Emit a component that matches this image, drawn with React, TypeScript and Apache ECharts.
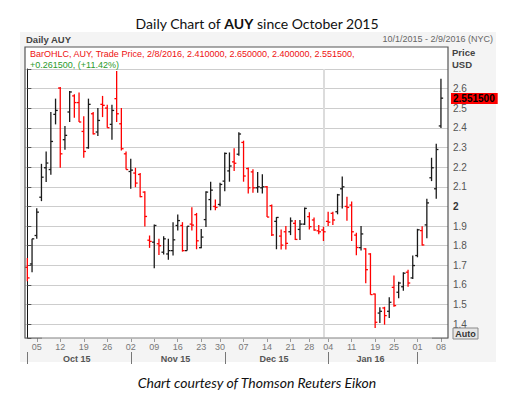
import React, { useEffect, useRef } from "react";
import * as echarts from "echarts";

// Trading days (day of month) per month, Oct 1 2015 - Feb 9 2016
const octDays = [1, 2, 5, 6, 7, 8, 9, 12, 13, 14, 15, 16, 19, 20, 21, 22, 23, 26, 27, 28, 29, 30];
const novDays = [2, 3, 4, 5, 6, 9, 10, 11, 12, 13, 16, 17, 18, 19, 20, 23, 24, 25, 27, 30];
const decDays = [1, 2, 3, 4, 7, 8, 9, 10, 11, 14, 15, 16, 17, 18, 21, 22, 23, 24, 28, 29, 30, 31];
const janDays = [4, 5, 6, 7, 8, 11, 12, 13, 14, 15, 19, 20, 21, 22, 25, 26, 27, 28, 29];
const febDays = [1, 2, 3, 4, 5, 8, 9];

const weekStarts = [
  "2015-10-05", "2015-10-12", "2015-10-19", "2015-10-26", "2015-11-02", "2015-11-09",
  "2015-11-16", "2015-11-23", "2015-11-30", "2015-12-07", "2015-12-14", "2015-12-21",
  "2015-12-28", "2016-01-04", "2016-01-11", "2016-01-19", "2016-01-25", "2016-02-01", "2016-02-08",
];
const monthStarts = ["2015-10-01", "2015-11-02", "2015-12-01", "2016-01-04", "2016-02-01"];
const monthLabels = ["Oct 15", "Nov 15", "Dec 15", "Jan 16"];
const yearBoundary = "2015-12-31";

const opens = [
  1.69, 1.707, 1.852, 2.047, 2.197, 2.188, 2.469, 2.603, 2.34, 2.481,
  2.563, 2.529, 2.382, 2.299, 2.472, 2.379, 2.52, 2.501, 2.418, 2.549,
  2.421, 2.268, 2.178, 2.17, 2.163, 2.073, 1.828, 1.818, 1.81, 1.767,
  1.758, 1.775, 1.903, 1.903, 1.775, 1.91, 1.958, 1.79, 1.933, 2.035,
  2.0, 2.01, 2.129, 2.181, 2.227, 2.266, 2.326, 2.193, 2.176, 2.095,
  2.095, 2.1, 2.004, 1.924, 1.849, 1.871, 1.871, 1.914, 1.883, 1.91,
  1.948, 1.931, 1.876, 1.88, 1.924, 1.965, 1.973, 2.09, 2.0, 2.007,
  1.854, 1.79, 1.784, 1.758, 1.554, 1.457, 1.483, 1.466, 1.588, 1.563,
  1.591, 1.665, 1.636, 1.75, 1.877, 1.906, 2.146, 2.09, 2.41,
];
const highs = [
  1.738, 1.835, 1.991, 2.217, 2.28, 2.481, 2.549, 2.608, 2.41, 2.588,
  2.571, 2.58, 2.459, 2.549, 2.481, 2.501, 2.563, 2.518, 2.518, 2.69,
  2.501, 2.28, 2.243, 2.197, 2.17, 2.078, 1.852, 1.908, 1.835, 1.848,
  1.835, 1.92, 1.959, 1.92, 1.899, 1.996, 1.967, 1.885, 2.078, 2.126,
  2.035, 2.121, 2.275, 2.275, 2.296, 2.378, 2.335, 2.198, 2.189, 2.176,
  2.164, 2.104, 2.01, 1.946, 1.883, 1.9, 1.944, 1.931, 1.931, 1.994,
  1.97, 1.944, 1.905, 1.897, 1.973, 1.973, 2.064, 2.152, 2.05, 2.025,
  1.866, 1.9, 1.787, 1.762, 1.557, 1.486, 1.489, 1.537, 1.648, 1.617,
  1.665, 1.678, 1.75, 1.886, 1.899, 2.039, 2.248, 2.319, 2.65,
];
const lows = [
  1.619, 1.665, 1.835, 2.027, 2.124, 2.161, 2.418, 2.197, 2.289, 2.43,
  2.452, 2.43, 2.248, 2.294, 2.367, 2.359, 2.455, 2.401, 2.34, 2.43,
  2.285, 2.188, 2.09, 2.098, 2.047, 1.898, 1.789, 1.685, 1.753, 1.755,
  1.728, 1.75, 1.877, 1.77, 1.775, 1.877, 1.782, 1.787, 1.895, 1.98,
  1.98, 2.001, 2.078, 2.126, 2.181, 2.258, 2.126, 2.066, 2.07, 2.07,
  2.066, 1.946, 1.85, 1.782, 1.781, 1.781, 1.854, 1.829, 1.829, 1.905,
  1.883, 1.876, 1.859, 1.824, 1.9, 1.905, 1.96, 1.99, 1.927, 1.824,
  1.752, 1.775, 1.609, 1.551, 1.381, 1.406, 1.398, 1.432, 1.489, 1.532,
  1.571, 1.591, 1.631, 1.741, 1.801, 1.838, 2.129, 2.039, 2.4,
];
const closes = [
  1.636, 1.835, 1.971, 2.149, 2.221, 2.331, 2.489, 2.268, 2.362, 2.583,
  2.529, 2.43, 2.28, 2.52, 2.37, 2.438, 2.515, 2.401, 2.489, 2.472,
  2.294, 2.188, 2.185, 2.119, 2.05, 1.949, 1.822, 1.903, 1.8, 1.835,
  1.775, 1.83, 1.928, 1.775, 1.899, 1.905, 1.825, 1.844, 2.073, 2.083,
  1.995, 2.112, 2.27, 2.206, 2.22, 2.369, 2.155, 2.095, 2.095, 2.1,
  2.1, 1.946, 1.855, 1.944, 1.803, 1.812, 1.926, 1.832, 1.91, 1.99,
  1.897, 1.88, 1.871, 1.871, 1.92, 1.931, 2.059, 2.1, 1.995, 1.871,
  1.791, 1.86, 1.678, 1.551, 1.41, 1.466, 1.444, 1.512, 1.495, 1.61,
  1.66, 1.61, 1.699, 1.881, 1.804, 2.018, 2.197, 2.29, 2.5515,
];

const yTicks = { min: 1.33, max: 2.7 };

const pad = (d: number) => (d < 10 ? "0" + d : "" + d);
const dates: string[] = [
  ...octDays.map((d) => `2015-10-${pad(d)}`),
  ...novDays.map((d) => `2015-11-${pad(d)}`),
  ...decDays.map((d) => `2015-12-${pad(d)}`),
  ...janDays.map((d) => `2016-01-${pad(d)}`),
  ...febDays.map((d) => `2016-02-${pad(d)}`),
];

const FONT = "Liberation Sans";

export default function App() {
  const ref = useRef<HTMLDivElement>(null);
  useEffect(() => {
    if (!ref.current) return;
    const chart = echarts.init(ref.current, null, { renderer: "svg" });
    const ohlc = opens.map((o, i) => [i, o, highs[i], lows[i], closes[i]]);
    const sepIdx = monthStarts.map((d) => dates.indexOf(d));
    const mids = monthLabels.map((_, k) => (sepIdx[k] + sepIdx[k + 1] - 1) / 2);
    const last = closes[closes.length - 1];
    const first = closes[closes.length - 2];
    const chg = last - first;
    const pct = (chg / first) * 100;

    chart.setOption({
      animation: false,
      grid: { left: 25, right: 71, top: 69, bottom: 61 },
      xAxis: [
        {
          type: "category",
          data: dates,
          boundaryGap: true,
          axisLine: { show: false },
          axisTick: {
            show: true,
            alignWithLabel: true,
            length: 4,
            interval: (i: number, v: string) => weekStarts.includes(v),
            lineStyle: { color: "#999" },
          },
          axisLabel: {
            interval: (i: number, v: string) => weekStarts.includes(v),
            formatter: (v: string) => v.slice(8),
            color: "#777",
            fontFamily: FONT,
            fontSize: 9,
            margin: 4,
          },
          splitLine: { show: false },
        },
        {
          type: "value",
          position: "bottom",
          offset: 14,
          min: -0.5,
          max: dates.length - 0.5,
          axisLine: { show: false },
          splitLine: { show: false },
          axisTick: {
            show: true,
            customValues: sepIdx,
            length: 12,
            lineStyle: { color: "#777" },
          },
          axisLabel: {
            customValues: mids,
            formatter: (v: number) => {
              let k = 0;
              mids.forEach((m, j) => { if (Math.abs(m - v) < Math.abs(mids[k] - v)) k = j; });
              return monthLabels[k];
            },
            color: "#555",
            fontWeight: "bold",
            fontFamily: FONT,
            fontSize: 9,
            margin: 2,
          },
        },
      ],
      yAxis: {
        type: "value",
        position: "right",
        min: yTicks.min,
        max: yTicks.max,
        splitNumber: 14,
        axisLine: { show: true, lineStyle: { color: "#111", width: 1 } },
        axisTick: { show: true, length: 4, lineStyle: { color: "#555" } },
        axisLabel: {
          margin: 5,
          color: "#555",
          fontFamily: FONT,
          fontSize: 10,
          formatter: (v: number) => {
            if (v > 2.65 || v < 1.35) return "";
            if (Math.abs(v - 2) < 1e-6) return "{b|2}";
            return v.toFixed(1);
          },
          rich: { b: { fontWeight: "bold", color: "#333", fontFamily: FONT, fontSize: 10 } },
        },
        splitLine: { show: true, lineStyle: { color: "#cdcdcd", width: 1.2 } },
      },
      series: [
        {
          type: "custom",
          data: ohlc,
          encode: { x: 0, y: [1, 2, 3, 4] },
          z: 5,
          renderItem: (params: any, api: any) => {
            const i = api.value(0);
            const o = api.coord([i, api.value(1)]);
            const h = api.coord([i, api.value(2)]);
            const l = api.coord([i, api.value(3)]);
            const c = api.coord([i, api.value(4)]);
            const color = api.value(4) < api.value(1) ? "#ff0000" : "#1a1a1a";
            const st = { stroke: color, lineWidth: 1.3 };
            return {
              type: "group",
              children: [
                { type: "line", shape: { x1: h[0], y1: h[1], x2: l[0], y2: l[1] }, style: st },
                { type: "line", shape: { x1: o[0] - 2.2, y1: o[1], x2: o[0], y2: o[1] }, style: st },
                { type: "line", shape: { x1: c[0], y1: c[1], x2: c[0] + 2.2, y2: c[1] }, style: st },
              ],
            };
          },
        },
        {
          type: "line",
          data: [],
          silent: true,
          z: 20,
          markLine: {
            silent: true,
            symbol: "none",
            animation: false,
            data: [
              {
                xAxis: yearBoundary,
                lineStyle: { color: "#dcdcdc", width: 2, type: "solid" },
                label: { show: false },
              },
              {
                yAxis: last,
                lineStyle: { color: "rgba(255,255,255,0)", width: 0.01, type: "solid" },
                label: {
                  show: true,
                  position: "end",
                  distance: [3, 0],
                  formatter: () => last.toFixed(6),
                  backgroundColor: "#ff0000",
                  color: "#000",
                  opacity: 1,
                  fontWeight: "bold",
                  fontFamily: FONT,
                  fontSize: 10,
                  padding: [1, 3, 0, 2],
                },
              },
            ],
          },
        },
      ],
      graphic: [
        { type: "rect", z: -20, shape: { x: 20, y: 32, width: 476, height: 330 }, style: { fill: "#f4f4f4" } },
        { type: "rect", z: -19, shape: { x: 25, y: 47, width: 423, height: 291 }, style: { fill: "#ffffff" } },
        { type: "rect", z: 50, shape: { x: 25, y: 47, width: 423, height: 291 }, style: { fill: "none", stroke: "#555", lineWidth: 1.2 } },
        { type: "line", z: 51, shape: { x1: 42, y1: 338, x2: 432, y2: 338 }, style: { stroke: "#c8c8c8", lineWidth: 1.5 } },
        {
          type: "text", z: 60, x: 257, y: 23,
          style: {
            text: "Daily Chart of {b|AUY} since October 2015",
            font: `14px Lato`, fill: "#111", align: "center", verticalAlign: "middle",
            rich: { b: { fontWeight: "bold", fontSize: 14, fontFamily: "Lato", fill: "#111" } },
          },
        },
        {
          type: "text", z: 60, x: 26, y: 39,
          style: { text: "Daily AUY", font: `bold 9.5px ${FONT}`, fill: "#444", verticalAlign: "middle" },
        },
        {
          type: "text", z: 60, x: 493, y: 39,
          style: { text: "10/1/2015 - 2/9/2016 (NYC)", font: `9px ${FONT}`, fill: "#666", align: "right", verticalAlign: "middle" },
        },
        {
          type: "text", z: 60, x: 30, y: 54,
          style: {
            text: `BarOHLC, AUY, Trade Price, 2/8/2016, ${opens[88].toFixed(6)}, ${highs[88].toFixed(6)}, ${lows[88].toFixed(6)}, ${last.toFixed(6)},`,
            font: `9px ${FONT}`, fill: "#ee1111", verticalAlign: "middle",
          },
        },
        {
          type: "text", z: 60, x: 30, y: 65,
          style: {
            text: `+${chg.toFixed(6)}, (+${pct.toFixed(2)}%)`,
            font: `9px ${FONT}`, fill: "#2a9a2a", verticalAlign: "middle",
          },
        },
        {
          type: "text", z: 60, x: 452, y: 52,
          style: { text: "Price", font: `bold 9.5px ${FONT}`, fill: "#444", verticalAlign: "middle" },
        },
        {
          type: "text", z: 60, x: 452, y: 64,
          style: { text: "USD", font: `bold 9.5px ${FONT}`, fill: "#444", verticalAlign: "middle" },
        },
        { type: "rect", z: 60, shape: { x: 453, y: 328, width: 25, height: 11 }, style: { fill: "#e6e6e6", stroke: "#888", lineWidth: 1 } },
        {
          type: "text", z: 61, x: 465.5, y: 333.5,
          style: { text: "Auto", font: `bold 9px ${FONT}`, fill: "#333", align: "center", verticalAlign: "middle" },
        },
        {
          type: "text", z: 60, x: 257, y: 382,
          style: { text: "Chart courtesy of Thomson Reuters Eikon", font: `italic 14px Lato`, fill: "#111", align: "center", verticalAlign: "middle" },
        },
      ],
    });
    return () => chart.dispose();
  }, []);
  return <div ref={ref} style={{ position: "absolute", left: 0, top: 0, width: 519, height: 399 }} />;
}
